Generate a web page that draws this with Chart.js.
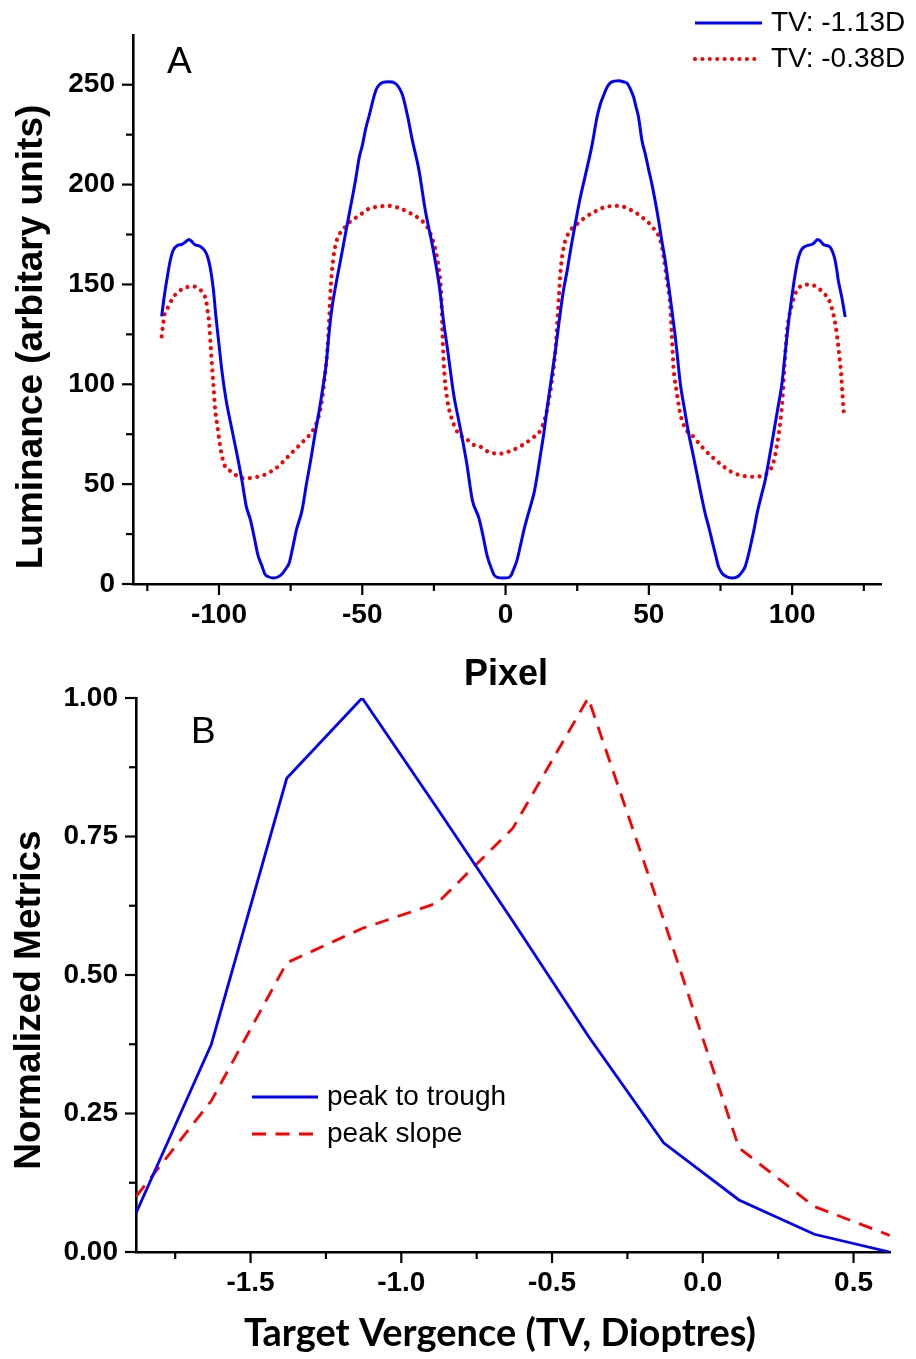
<!DOCTYPE html>
<html>
<head>
<meta charset="utf-8">
<script src="https://cdn.jsdelivr.net/npm/chart.js@4.4.1/dist/chart.umd.min.js"></script>
<style>
  html, body { margin: 0; padding: 0; background: #fff; }
  #wrap { position: relative; width: 916px; height: 1359px; overflow: hidden; background: #fff; }
  canvas { position: absolute; left: 0; }
  #cA { top: 0; }
  #cB { top: 640px; }
</style>
</head>
<body>
<div id="wrap">
  <canvas id="cA" width="916" height="700"></canvas>
  <canvas id="cB" width="916" height="719"></canvas>
</div>
<script>
// ---------------- Panel A data (luminance profiles) ----------------
const seriesLabelsA = ['TV: -1.13D', 'TV: -0.38D'];

const pixelTV113 = [
  -120, -119, -118, -117, -116, -114.5, -113, -111.5, -110.5, -109.5, -108.5, -106.5, -105, -104, -103, -102, -101, -100,
  -99, -97.5, -96, -94, -92, -90.5, -89, -87.5, -86.5, -85, -84, -82.5, -81, -79.5, -78, -76.5, -75.5, -74.3, -73, -71,
  -69.5, -68, -66.5, -65, -63.8, -62.6, -61.5, -60.4, -59.2, -58, -56.3, -54.6, -52.5, -51, -50, -48.8, -47.5, -45.3, -43, -40.5,
  -38.3, -36, -34.3, -32.5, -30.2, -28, -25.6, -23.2, -21.5, -20.3, -19, -18, -16.5, -15, -13.5, -11.6, -9.3, -8, -6.4,
  -5, -4, -2.5, -1, 1, 2, 3, 4, 5.3, 6.4, 7.5, 8.7, 10, 11, 12.2, 13.3, 14.5, 15.7, 16.6, 17.4, 18.3, 19.2, 20.2, 21.5, 23, 24.4,
  26, 27.9, 30.2, 31.9, 33, 34.3, 35.5, 36.6, 38, 39.5, 41, 42.4, 43.5, 44.7, 45.5, 46.4, 47.6, 48.8, 50, 51.1, 52.3, 53.4,
  54.5, 55.7, 56.6, 57.5, 58.4, 59.2, 60.1, 61, 62.5, 63.9, 65.4, 66.8, 68.2, 69.7, 71, 72, 73.2, 74.3, 75.5, 76.7, 78, 79, 80.2,
  81.3, 82.5, 83.6, 84.8, 85.9, 86.8, 87.7, 89.2, 90.6, 92, 93.5, 95, 96.4, 97.3, 98.1, 98.9, 99.8, 100.6, 101.4, 102.3, 103.3,
  104.5, 105.5, 106.8, 107.8, 108.9, 110, 110.9, 112, 113.2, 114.2, 115, 115.6, 116.1, 117.3, 118.5
];
const lumTV113 = [
  134, 145, 154, 162, 167, 169.5, 170, 171.5, 172.5, 171.5, 170, 169, 167, 164, 158, 148, 133, 120,
  107, 92, 81, 67, 52, 39, 32, 22, 15, 9, 5, 3.5, 3, 3.5, 5, 8, 10.5, 18, 27, 37,
  50, 62, 75, 87, 98, 110, 127, 140, 150, 159, 172, 185, 201, 214, 219.5, 228, 235, 247, 251, 251.5,
  250.5, 245, 235, 222, 207, 187, 170, 150, 130, 118, 104, 94, 83, 72, 60, 42, 33, 25, 14,
  8, 4.5, 3.2, 3, 3.2, 4.5, 8, 12, 20, 27, 33, 39, 46, 54, 65, 75, 88, 100, 109, 117, 127, 137, 147, 157, 170, 181,
  193, 205, 220, 233.7, 240, 245, 249, 251, 251.8, 252, 251.5, 250.7, 248, 243.7, 239, 233.7, 222, 215, 207, 200, 191, 182,
  172, 162, 152.5, 143, 133, 124, 112, 100, 87, 75.3, 65, 55, 45, 35, 28, 22, 15, 8.7, 5.5, 4, 3.2, 3, 3.2,
  4, 6, 8.7, 15, 22, 28, 35, 44, 52, 63, 75.3, 88, 100, 112, 123, 133, 143, 151, 158, 164, 167.5,
  169, 169.6, 170, 171, 172.5, 171.5, 170, 169.5, 168.7, 166, 162, 157, 152, 143.7, 133.7
];

const pixelTV038 = [
  -120, -119.5, -119, -118, -117.3, -116, -114.4, -112.5, -111, -109.2, -107.5, -106.3, -105.1, -104.5, -104, -103.4, -102.8,
  -102, -101.3, -100.5, -99.7, -98.2, -96.4, -94.1, -91.8, -89.4, -86.5, -83.6, -80.1, -77.8, -74.4, -70.9, -68.5, -66.8,
  -65, -63.9, -63, -62.2, -61.6, -61, -60.2, -58.7, -56.9, -54.6, -51.1, -47.6, -44.1, -40.7, -37.2, -33.7, -30.2, -27.3,
  -25.6, -24.4, -23.2, -22.4, -22, -21.5, -20.3, -18.6, -16.3, -13.9, -11.6, -8.7, -5.8, -1.7, 2.3, 5.8, 9.3, 12.2, 13.9,
  15.1, 16.2, 17.2, 17.8, 18.6, 19.2, 20.3, 22.1, 24.4, 27.9, 31.9, 35.4, 39.5, 44.1, 48.2, 51.7, 54, 55.2, 56.3, 57.5, 58,
  58.6, 59.8, 61, 62.7, 65.6, 68.5, 72, 75.5, 79, 83.6, 87.1, 90, 91.7, 93.5, 94.6, 95.8, 96.6, 97.3, 98.1, 98.7, 99.7,
  101.6, 103.9, 106.3, 109.2, 111.5, 113.2, 114.4, 115.2, 116.1, 117.1, 117.6, 118.1
];
const lumTV038 = [
  124, 130, 135, 138, 140, 143.5, 146, 148, 148.7, 149, 148.5, 147, 144.5, 142, 137, 130, 117,
  100.5, 87, 78.7, 70, 60, 57, 54.5, 53, 53, 53.7, 55, 58, 61, 66, 71, 74.5, 78,
  85, 93.7, 105, 117, 131, 148.7, 162, 173, 177, 181, 184.5, 188, 189, 189.3, 188.3, 186, 183, 178.7,
  173, 167, 157, 143.7, 125, 108.7, 92, 82, 75, 73, 70, 68.7, 66, 65.3, 67, 69.5, 73, 77, 83.7,
  92, 102, 113.7, 125.3, 143.7, 157, 168.7, 176, 179.5, 183.7, 187, 189, 189.3, 187, 183, 178, 172, 163.7, 152, 138.7, 125,
  108.7, 95.3, 85, 78, 73.7, 68.7, 63.7, 59.5, 56, 54, 53.7, 54.5, 56, 61, 68.7, 80.3, 92, 108.7, 125.3, 132, 138.7,
  147, 149.5, 150, 148, 145, 141, 135, 129, 119, 105, 94, 84.5
];

// ---------------- Panel B data (normalized metrics) ----------------
const seriesLabelsB = ['peak to trough', 'peak slope'];
const targetVergence = [-1.88, -1.63, -1.38, -1.13, -0.88, -0.63, -0.38, -0.13, 0.12, 0.37, 0.62];
const peakToTrough  = [0.07, 0.375, 0.855, 1.0, 0.80, 0.597, 0.39, 0.197, 0.094, 0.032, 0.0];
const peakSlope     = [0.10, 0.273, 0.522, 0.584, 0.63, 0.765, 1.0, 0.60, 0.188, 0.082, 0.030];

// ---------------- styling helpers ----------------
const SANS = "'Liberation Sans', Arial, Helvetica, sans-serif";
const tickFont = { family: SANS, size: 28, weight: 'bold' };

function pts(xs, ys) { return xs.map((x, i) => ({ x: x, y: ys[i] })); }

// draws major/minor tick marks at the library's own tick positions
const tickMarks = {
  id: 'tickMarks',
  afterDraw(chart) {
    const ctx = chart.ctx;
    ctx.save();
    ctx.strokeStyle = '#000';
    ctx.lineWidth = 2.2;
    Object.values(chart.scales).forEach(s => {
      s.ticks.forEach(t => {
        const major = t.label !== '' && t.label != null;
        if (!major && Math.abs(t.value - s.max) < 1e-9) return;
        const len = major ? 11 : 7;
        const p = s.getPixelForValue(t.value);
        ctx.beginPath();
        if (s.isHorizontal()) { ctx.moveTo(p, s.top); ctx.lineTo(p, s.top + len); }
        else { ctx.moveTo(s.right - len, p); ctx.lineTo(s.right, p); }
        ctx.stroke();
      });
    });
    ctx.restore();
  }
};

// panel letter, legend and axis titles
function decor(cfg) {
  return {
    id: 'decor',
    afterDraw(chart) {
      const ctx = chart.ctx;
      ctx.save();
      ctx.fillStyle = '#000';
      ctx.font = cfg.letter.font;
      ctx.textAlign = 'left';
      ctx.textBaseline = 'alphabetic';
      ctx.fillText(cfg.letter.text, cfg.letter.x, cfg.letter.y);
      cfg.legend.rows.forEach((r, i) => {
        const ds = chart.data.datasets[i];
        ctx.save();
        ctx.strokeStyle = ds.borderColor;
        ctx.lineWidth = ds.borderWidth;
        ctx.setLineDash(ds.borderDash || []);
        ctx.lineCap = ds.borderCapStyle || 'butt';
        ctx.beginPath();
        ctx.moveTo(r.x1, r.y);
        ctx.lineTo(r.x2, r.y);
        ctx.stroke();
        ctx.restore();
        ctx.font = cfg.legend.font;
        ctx.textAlign = 'left';
        ctx.textBaseline = 'middle';
        ctx.fillText(ds.label, r.tx, r.y);
      });
      const xt = cfg.xTitle;
      let xf = xt.font;
      if (xt.fitWidth) {
        ctx.font = xt.weight + ' 100px ' + xt.family;
        const w = ctx.measureText(xt.text).width;
        xf = xt.weight + ' ' + (100 * xt.fitWidth / w).toFixed(2) + 'px ' + xt.family;
      }
      ctx.font = xf;
      ctx.textAlign = 'center';
      ctx.textBaseline = 'alphabetic';
      ctx.fillText(xt.text, xt.x, xt.y);
      const yt = cfg.yTitle;
      ctx.save();
      ctx.translate(yt.x, yt.y);
      ctx.rotate(-Math.PI / 2);
      ctx.font = yt.font;
      ctx.textAlign = 'center';
      ctx.textBaseline = 'alphabetic';
      ctx.fillText(yt.text, 0, 0);
      ctx.restore();
      ctx.restore();
    }
  };
}

const noGrid = { display: false, drawTicks: false };

// ---------------- Panel A ----------------
new Chart(document.getElementById('cA'), {
  type: 'line',
  data: {
    datasets: [
      { label: seriesLabelsA[0], data: pts(pixelTV113, lumTV113), borderColor: '#0000ff', borderWidth: 3,
        pointRadius: 0, fill: false, cubicInterpolationMode: 'monotone' },
      { label: seriesLabelsA[1], data: pts(pixelTV038, lumTV038), borderColor: '#ff0000', borderWidth: 4.2,
        borderDash: [0.01, 7.4], borderCapStyle: 'round', pointRadius: 0, fill: false, cubicInterpolationMode: 'monotone' }
    ]
  },
  options: {
    responsive: false, animation: false, devicePixelRatio: 1,
    layout: { padding: { left: 0, top: 34, right: 35, bottom: 0 } },
    plugins: { legend: { display: false }, tooltip: { enabled: false } },
    scales: {
      x: {
        type: 'linear', min: -130, max: 131,
        grid: noGrid, border: { color: '#000', width: 2.6 },
        ticks: { stepSize: 25, includeBounds: false, autoSkip: false, maxRotation: 0, padding: 14,
                 color: '#000', font: tickFont, callback: v => (v % 50 === 0 ? String(v) : '') },
        afterFit: s => { s.height = 116; }
      },
      y: {
        type: 'linear', min: 0, max: 275,
        grid: noGrid, border: { color: '#000', width: 2.6 },
        ticks: { stepSize: 25, includeBounds: false, autoSkip: false, padding: 18,
                 color: '#000', font: tickFont, callback: v => (v % 50 === 0 ? String(v) : '') },
        afterFit: s => { s.width = 133; }
      }
    }
  },
  plugins: [tickMarks, decor({
    letter: { text: 'A', x: 167, y: 73, font: '37px ' + SANS },
    legend: { font: '28px ' + SANS, rows: [
      { x1: 695, x2: 762, y: 23, tx: 771 },
      { x1: 695, x2: 758, y: 59, tx: 771 }
    ] },
    xTitle: { text: 'Pixel', x: 506, y: 685, font: 'bold 36px ' + SANS },
    yTitle: { text: 'Luminance (arbitary units)', x: 42, y: 337, font: 'bold 37px ' + SANS }
  })]
});

// ---------------- Panel B ----------------
new Chart(document.getElementById('cB'), {
  type: 'line',
  data: {
    datasets: [
      { label: seriesLabelsB[0], data: pts(targetVergence, peakToTrough), borderColor: '#0000ff', borderWidth: 2.8,
        pointRadius: 0, fill: false, tension: 0 },
      { label: seriesLabelsB[1], data: pts(targetVergence, peakSlope), borderColor: '#ff0000', borderWidth: 2.8,
        borderDash: [14, 9.5], pointRadius: 0, fill: false, tension: 0 }
    ]
  },
  options: {
    responsive: false, animation: false, devicePixelRatio: 1,
    layout: { padding: { left: 0, top: 58, right: 26, bottom: 0 } },
    plugins: { legend: { display: false }, tooltip: { enabled: false } },
    scales: {
      x: {
        type: 'linear', min: -1.88, max: 0.621,
        grid: noGrid, border: { color: '#000', width: 2.6 },
        ticks: { stepSize: 0.25, includeBounds: false, autoSkip: false, maxRotation: 0, padding: 14,
                 color: '#000', font: tickFont,
                 callback: v => (Math.abs(v * 2 - Math.round(v * 2)) < 1e-6 ? (Math.abs(v) < 1e-9 ? 0 : v).toFixed(1) : '') },
        afterFit: s => { s.height = 107; }
      },
      y: {
        type: 'linear', min: 0, max: 1,
        grid: noGrid, border: { color: '#000', width: 2.6 },
        ticks: { stepSize: 0.125, includeBounds: false, autoSkip: false, padding: 18,
                 color: '#000', font: tickFont,
                 callback: v => (Math.abs(v * 4 - Math.round(v * 4)) < 1e-6 ? v.toFixed(2) : '') },
        afterFit: s => { s.width = 136; }
      }
    }
  },
  plugins: [tickMarks, decor({
    letter: { text: 'B', x: 191, y: 103, font: '37px ' + SANS },
    legend: { font: '28px ' + SANS, rows: [
      { x1: 252, x2: 318, y: 457, tx: 327 },
      { x1: 252, x2: 318, y: 494, tx: 327 }
    ] },
    xTitle: { text: 'Target Vergence (TV, Dioptres)', x: 500, y: 706, weight: 'bold',
              family: "Lato, 'Open Sans', sans-serif", fitWidth: 512 },
    yTitle: { text: 'Normalized Metrics', x: 40, y: 360, font: 'bold 37px ' + SANS }
  })]
});
</script>
</body>
</html>
